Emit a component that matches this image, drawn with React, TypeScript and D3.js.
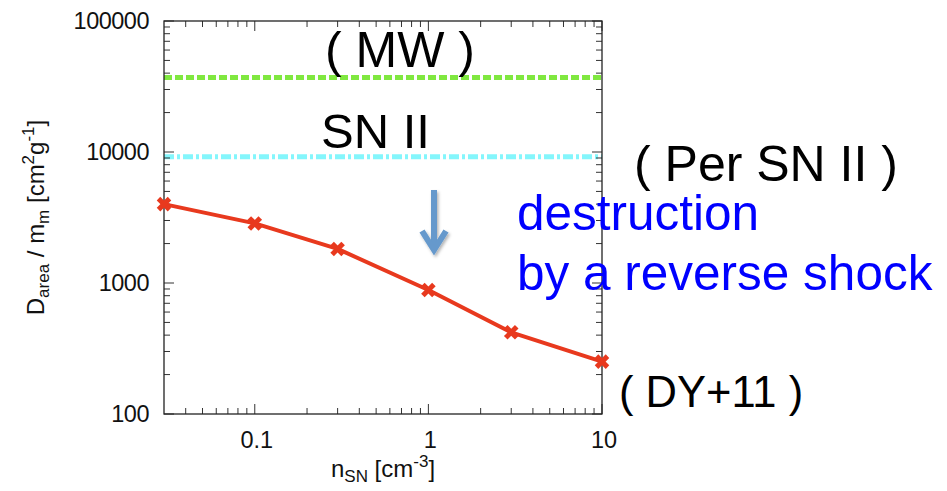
import React from "react";
import * as d3 from "d3";

const nSN = [0.03, 0.1, 0.3, 1, 3, 10];
const dArea = [4000, 2850, 1820, 885, 420, 251];
const mwLevel = 37000;
const snIILevel = 9200;
const xTickValues = [0.1, 1, 10];
const xTickLabels = ["0.1", "1", "10"];
const yTickValues = [100, 1000, 10000, 100000];
const yTickLabels = ["100", "1000", "10000", "100000"];

const W = 947;
const H = 491;
const FONT = "'Liberation Sans', Arial, Helvetica, sans-serif";

export default function App() {
  const left = 164, right = 602, top = 21, bottom = 414;
  const x = d3.scaleLog().domain([0.03, 10]).range([left, right]);
  const y = d3.scaleLog().domain([100, 100000]).range([bottom, top]);

  const xMinor: number[] = [];
  [0.01, 0.1, 1].forEach((dec) => {
    for (let k = 2; k <= 9; k++) {
      const v = dec * k;
      if (v > 0.03 && v < 10) xMinor.push(v);
    }
  });
  const yMinor: number[] = [];
  [100, 1000, 10000].forEach((dec) => {
    for (let k = 2; k <= 9; k++) yMinor.push(dec * k);
  });

  const line = d3
    .line<number>()
    .x((_, i) => x(nSN[i]))
    .y((d) => y(d));

  const tickColor = "#333";
  const major = 10;
  const minor = 6;

  return (
    <svg width={W} height={H} style={{ display: "block", position: "absolute", left: 0, top: 0 }}>
      <defs>
        <filter id="sh" x="-50%" y="-50%" width="200%" height="200%">
          <feDropShadow dx="1.5" dy="2" stdDeviation="1.5" floodColor="#000" floodOpacity="0.3" />
        </filter>
      </defs>
      <rect x={0} y={0} width={W} height={H} fill="#fff" />

      {/* horizontal reference lines */}
      <line x1={left} x2={right} y1={y(mwLevel)} y2={y(mwLevel)} stroke="#80e840" strokeWidth={5} strokeDasharray="8,3" />
      <line x1={left} x2={right} y1={y(snIILevel)} y2={y(snIILevel)} stroke="#84f6fc" strokeWidth={5} strokeDasharray="10,3,3,3" />

      {/* ticks */}
      <g stroke={tickColor} strokeWidth={1}>
        {xTickValues.map((v) => (
          <g key={"xt" + v}>
            <line x1={x(v)} x2={x(v)} y1={bottom} y2={bottom - major} />
            <line x1={x(v)} x2={x(v)} y1={top} y2={top + major} />
          </g>
        ))}
        {xMinor.map((v) => (
          <g key={"xm" + v}>
            <line x1={x(v)} x2={x(v)} y1={bottom} y2={bottom - minor} />
            <line x1={x(v)} x2={x(v)} y1={top} y2={top + minor} />
          </g>
        ))}
        {yTickValues.map((v) => (
          <g key={"yt" + v}>
            <line x1={left} x2={left + major} y1={y(v)} y2={y(v)} />
            <line x1={right} x2={right - major} y1={y(v)} y2={y(v)} />
          </g>
        ))}
        {yMinor.map((v) => (
          <g key={"ym" + v}>
            <line x1={left} x2={left + minor} y1={y(v)} y2={y(v)} />
            <line x1={right} x2={right - minor} y1={y(v)} y2={y(v)} />
          </g>
        ))}
      </g>
      <rect x={left} y={top} width={right - left} height={bottom - top} fill="none" stroke="#222" strokeWidth={1.3} />

      {/* data */}
      <path d={line(dArea) || ""} fill="none" stroke="#e8391e" strokeWidth={4} strokeLinejoin="round" />
      {dArea.map((d, i) => {
        const cx = x(nSN[i]);
        const cy = y(d);
        const s = 5.5;
        return (
          <g key={"m" + i} stroke="#e8391e" strokeWidth={5}>
            <line x1={cx - s} y1={cy - s} x2={cx + s} y2={cy + s} />
            <line x1={cx - s} y1={cy + s} x2={cx + s} y2={cy - s} />
          </g>
        );
      })}

      {/* tick labels */}
      <g fontFamily={FONT} fontSize={23.5} fill="#111">
        {yTickValues.map((v, i) => (
          <text key={"yl" + v} x={149} y={y(v)} dy="0.36em" textAnchor="end" letterSpacing={-0.5}>
            {yTickLabels[i]}
          </text>
        ))}
        {xTickValues.map((v, i) => (
          <text key={"xl" + v} x={x(v) + 2} y={448} textAnchor="middle">
            {xTickLabels[i]}
          </text>
        ))}
      </g>

      {/* axis titles */}
      <text x={383} y={477} fontFamily={FONT} fontSize={24} fill="#111" textAnchor="middle">
        n<tspan fontSize={17} dy={5}>SN</tspan>
        <tspan dy={-5}> [cm</tspan>
        <tspan fontSize={17} dy={-10}>-3</tspan>
        <tspan dy={10}>]</tspan>
      </text>
      <text
        transform={`translate(44,${(top + bottom) / 2}) rotate(-90)`}
        fontFamily={FONT}
        fontSize={24}
        fill="#111"
        textAnchor="middle"
      >
        D<tspan fontSize={17} dy={5}>area</tspan>
        <tspan dy={-5}> / m</tspan>
        <tspan fontSize={17} dy={5}>m</tspan>
        <tspan dy={-5}> [cm</tspan>
        <tspan fontSize={17} dy={-10}>2</tspan>
        <tspan dy={10}>g</tspan>
        <tspan fontSize={17} dy={-10}>-1</tspan>
        <tspan dy={10}>]</tspan>
      </text>

      {/* annotations */}
      <g fontFamily={FONT} fill="#000">
        <text x={400} y={67} fontSize={50} textAnchor="middle">( MW )</text>
        <text x={321} y={148} fontSize={49}>SN II</text>
        <text x={634} y={181} fontSize={50}>( Per SN II )</text>
        <text x={619} y={407} fontSize={43.5}>( DY+11 )</text>
      </g>
      <g fontFamily={FONT} fill="#0000ff" fontSize={49.5}>
        <text x={517} y={230}>destruction</text>
        <text x={517} y={290}>by a reverse shock</text>
      </g>

      {/* arrow */}
      <g stroke="#6699cc" strokeWidth={6} fill="none" filter="url(#sh)">
        <line x1={434} y1={190} x2={434} y2={249} />
        <path d="M422,231 L434,250 L446,231" strokeLinejoin="miter" />
      </g>
    </svg>
  );
}
